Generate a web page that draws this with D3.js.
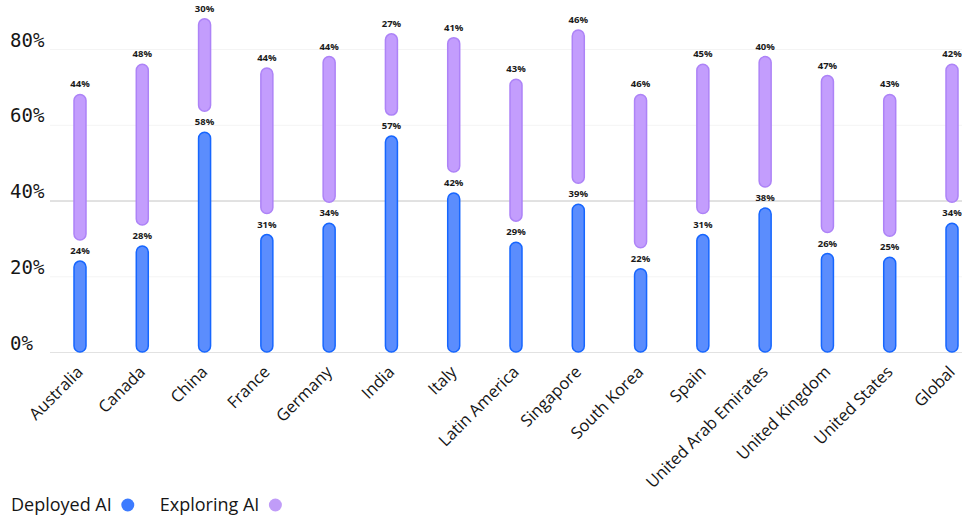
<!DOCTYPE html>
<html>
<head>
<meta charset="utf-8">
<script src="https://cdn.jsdelivr.net/npm/d3@7"></script>
<style>
    body { margin: 0; background: #fff; }
    svg { display: block; }
</style>
</head>
<body>
<div id="chart"></div>
<script type="text/javascript">
    var categories = ["Australia", "Canada", "China", "France", "Germany", "India", "Italy",
        "Latin America", "Singapore", "South Korea", "Spain", "United Arab Emirates",
        "United Kingdom", "United States", "Global"];
    var deployed = [24, 28, 58, 31, 34, 57, 42, 29, 39, 22, 31, 38, 26, 25, 34];
    var exploring = [44, 48, 30, 44, 44, 27, 41, 43, 46, 46, 45, 40, 47, 43, 42];
    var yTicks = [0, 20, 40, 60, 80];
    var seriesNames = ["Deployed AI", "Exploring AI"];

    var width = 962, height = 516;
    var blueFill = "#5b8dfd", blueStroke = "#1666ff";
    var purpleFill = "#c39dfd", purpleStroke = "#ad83f7";
    var barWidth = 12;
    var gap = 21;

    var svg = d3.select("#chart").append("svg")
        .attr("width", width)
        .attr("height", height);

    var x = d3.scalePoint().domain(categories).range([80, 952]);
    var y = d3.scaleLinear().domain([0, 80]).range([352, 49]);

    // y axis with gridlines, labels sit above their line
    var yAxis = svg.append("g")
        .attr("transform", "translate(50,0)")
        .call(d3.axisLeft(y).tickValues(yTicks).tickSize(-(width - 50)).tickFormat(d => d + "%"));
    yAxis.select(".domain").remove();
    yAxis.selectAll(".tick line")
        .attr("stroke", d => d === 40 ? "#c4c4c4" : (d === 0 ? "#e2e2e2" : "#f4f4f4"))
        .attr("stroke-width", 1);
    yAxis.selectAll(".tick text")
        .attr("x", -40)
        .attr("dy", -3)
        .attr("text-anchor", "start")
        .style("font-family", "'DejaVu Sans Mono', monospace")
        .style("font-size", "19px")
        .attr("fill", "#161616");

    var g = svg.append("g");

    // deployed bars
    g.selectAll("rect.deployed")
        .data(categories)
        .enter()
        .append("rect")
        .attr("class", "deployed")
        .attr("x", d => x(d) - barWidth / 2)
        .attr("width", barWidth)
        .attr("y", (d, i) => y(deployed[i]))
        .attr("height", (d, i) => y(0) - y(deployed[i]))
        .attr("rx", barWidth / 2)
        .attr("fill", blueFill)
        .attr("stroke", blueStroke)
        .attr("stroke-width", 1.5);

    // exploring bars, stacked on top with a gap
    g.selectAll("rect.exploring")
        .data(categories)
        .enter()
        .append("rect")
        .attr("class", "exploring")
        .attr("x", d => x(d) - barWidth / 2)
        .attr("width", barWidth)
        .attr("y", (d, i) => y(deployed[i] + exploring[i]))
        .attr("height", (d, i) => (y(deployed[i]) - gap) - y(deployed[i] + exploring[i]))
        .attr("rx", barWidth / 2)
        .attr("fill", purpleFill)
        .attr("stroke", purpleStroke)
        .attr("stroke-width", 1.5);

    // value labels
    function addLabels(cls, values, topOf) {
        g.selectAll("text." + cls)
            .data(categories)
            .enter()
            .append("text")
            .attr("class", cls)
            .attr("x", d => x(d))
            .attr("y", (d, i) => topOf(i) - 7)
            .attr("text-anchor", "middle")
            .style("font-family", "'Open Sans', sans-serif")
            .style("font-size", "9.5px")
            .style("font-weight", 700)
            .attr("fill", "#1a1a1a")
            .text((d, i) => values[i] + "%");
    }
    addLabels("lbl-dep", deployed, i => y(deployed[i]));
    addLabels("lbl-exp", exploring, i => y(deployed[i] + exploring[i]));

    // category labels
    svg.append("g").selectAll("text")
        .data(categories)
        .enter()
        .append("text")
        .attr("transform", d => "translate(" + (x(d) + 4) + ",373) rotate(-45)")
        .attr("text-anchor", "end")
        .style("font-family", "'Open Sans', sans-serif")
        .style("font-size", "16.5px")
        .attr("fill", "#161616")
        .text(d => d);

    // legend
    var legend = svg.append("g").attr("transform", "translate(11,511)");
    var lx = 0;
    seriesNames.forEach(function (name, i) {
        var t = legend.append("text")
            .attr("x", lx)
            .attr("y", 0)
            .style("font-family", "'Open Sans', sans-serif")
            .style("font-size", "18px")
            .attr("fill", "#161616")
            .text(name);
        var w = t.node().getComputedTextLength();
        legend.append("circle")
            .attr("cx", lx + w + 16)
            .attr("cy", -6)
            .attr("r", 6.5)
            .attr("fill", i === 0 ? "#3c7bff" : "#c09cf8");
        lx = lx + w + 16 + 32;
    });
</script>
</body>
</html>
